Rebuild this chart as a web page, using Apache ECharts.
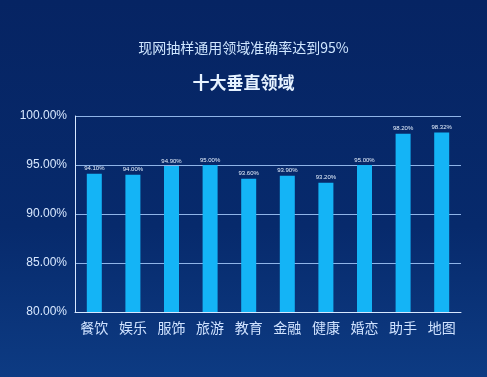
<!DOCTYPE html>
<html>
<head>
<meta charset="utf-8">
<script src="https://cdn.jsdelivr.net/npm/echarts@6/dist/echarts.min.js"></script>
<style>
  html, body { margin: 0; padding: 0; }
  #main { width: 487px; height: 377px; }
</style>
</head>
<body>
<div id="main"></div>
<script>
const categories = ['餐饮', '娱乐', '服饰', '旅游', '教育', '金融', '健康', '婚恋', '助手', '地图']
const accuracy = [94.1, 94.0, 94.9, 95.0, 93.6, 93.9, 93.2, 95.0, 98.2, 98.32]
const subTitle = '现网抽样通用领域准确率达到95%'
const mainTitle = '十大垂直领域'

const chart = echarts.init(document.getElementById('main'))
const option = {
  backgroundColor: new echarts.graphic.LinearGradient(0, 0, 0, 1, [
    { offset: 0, color: '#062463' },
    { offset: 0.6, color: '#072a6c' },
    { offset: 1, color: '#0d3b83' },
  ]),
  title: [
    {
      text: subTitle,
      left: 'center',
      top: 36,
      textStyle: {
        color: '#cfe6ff',
        fontSize: 14,
        fontWeight: 'normal',
        fontFamily: 'Noto Sans CJK SC',
      },
    },
    {
      text: mainTitle,
      left: 'center',
      top: 69,
      textStyle: {
        color: '#e6f2ff',
        fontSize: 17,
        fontWeight: 'bold',
        fontFamily: 'Noto Sans CJK SC',
      },
    },
  ],
  grid: {
    left: 75,
    right: 26,
    top: 116,
    bottom: 65,
  },
  xAxis: {
    type: 'category',
    data: categories,
    axisLine: {
      lineStyle: { color: '#d8e8ff', width: 1 },
    },
    axisTick: {
      inside: true,
      length: 3,
      lineStyle: { color: '#d8e8ff' },
    },
    axisLabel: {
      color: '#cfe2ff',
      fontSize: 14,
      margin: 9,
      fontFamily: 'Noto Sans CJK SC',
    },
  },
  yAxis: {
    type: 'value',
    min: 80,
    max: 100,
    interval: 5,
    axisLine: {
      show: true,
      lineStyle: { color: '#d8e8ff', width: 1 },
    },
    axisTick: { show: false },
    axisLabel: {
      color: '#d8e8ff',
      fontSize: 12,
      margin: 8,
      fontFamily: 'Liberation Sans',
      formatter: (v) => v.toFixed(2) + '%',
    },
    splitLine: {
      lineStyle: { color: '#8fb4e8', width: 1 },
    },
  },
  series: [
    {
      type: 'bar',
      data: accuracy,
      barWidth: 15,
      itemStyle: { color: '#14b4f6' },
      label: {
        show: true,
        position: 'top',
        distance: 2,
        color: '#e8f2ff',
        fontSize: 6,
        formatter: (p) => p.value.toFixed(2) + '%',
      },
    },
  ],
  animation: false,
}
chart.setOption(option)
</script>
</body>
</html>
